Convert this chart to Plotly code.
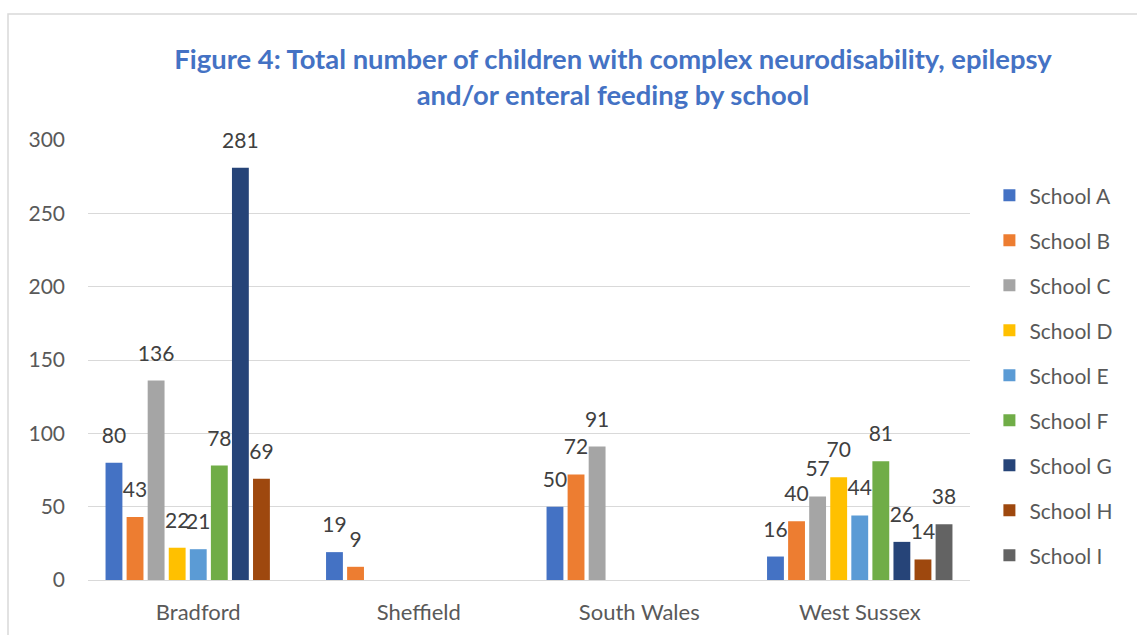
import plotly.graph_objects as go

regions = ["Bradford", "Sheffield", "South Wales", "West Sussex"]
schools = ["School A", "School B", "School C", "School D", "School E",
           "School F", "School G", "School H", "School I"]
school_a = [80, 19, 50, 16]
school_b = [43, 9, 72, 40]
school_c = [136, None, 91, 57]
school_d = [22, None, None, 70]
school_e = [21, None, None, 44]
school_f = [78, None, None, 81]
school_g = [281, None, None, 26]
school_h = [69, None, None, 14]
school_i = [None, None, None, 38]
series = [school_a, school_b, school_c, school_d, school_e,
          school_f, school_g, school_h, school_i]
colors = ["#4472C4", "#ED7D31", "#A5A5A5", "#FFC000", "#5B9BD5",
          "#70AD47", "#264478", "#9E480E", "#636363"]

FONT = "Lato"
fig = go.Figure()
for name, vals, col in zip(schools, series, colors):
    fig.add_trace(go.Bar(
        name=name, x=regions, y=vals, marker_color=col,
        marker_line_width=0, legendgroup=name, hoverinfo="skip",
        offsetgroup=name,
    ))
# data labels, grouped to align with the bars
for name, vals in zip(schools, series):
    fig.add_trace(go.Scatter(
        x=regions, y=vals, mode="markers+text",
        text=[("" if v is None else str(v)) for v in vals],
        textposition="top center", cliponaxis=False,
        marker=dict(size=22, opacity=0, color="white"),
        textfont=dict(family=FONT, size=21, color="#404040"),
        showlegend=False, hoverinfo="skip", offsetgroup=name,
    ))

fig.update_layout(
    width=1137, height=635,
    margin=dict(l=88, r=167, t=140, b=55, autoexpand=False),
    paper_bgcolor="white", plot_bgcolor="white",
    barmode="group", bargap=0.14, bargroupgap=0.2,
    scattermode="group", scattergap=0.14,
    title=dict(
        text="<b>Figure 4: Total number of children with complex neurodisability, epilepsy<br>and/or enteral feeding by school</b>",
        font=dict(family=FONT, size=27.4, color="#4472C4"),
        x=613/1137, xanchor="center", y=1-69/635, yanchor="middle",
    ),
    font=dict(family=FONT, size=21, color="#595959"),
    xaxis=dict(showgrid=False, showline=False, ticks="", ticklabelstandoff=17,
               automargin=False,
               tickfont=dict(family=FONT, size=22, color="#595959")),
    yaxis=dict(range=[0, 300], dtick=50, showgrid=True, gridcolor="#D9D9D9",
               gridwidth=1.3, zeroline=True, zerolinecolor="#D9D9D9", zerolinewidth=1.3,
               ticks="", ticklabelstandoff=22, automargin=False,
               tickfont=dict(family=FONT, size=21, color="#595959")),
    legend=dict(x=1.022, xanchor="left", y=0.92, yanchor="top",
                traceorder="grouped", tracegroupgap=14.7,
                font=dict(family=FONT, size=21, color="#595959")),
    showlegend=True,
)
fig.add_shape(type="rect", xref="paper", yref="paper",
              x0=(8-88)/882, x1=1.3, y0=-0.3, y1=(580-14)/440,
              line=dict(color="#D9D9D9", width=1.5), fillcolor="rgba(0,0,0,0)",
              layer="below")
fig.write_html("out.html")
